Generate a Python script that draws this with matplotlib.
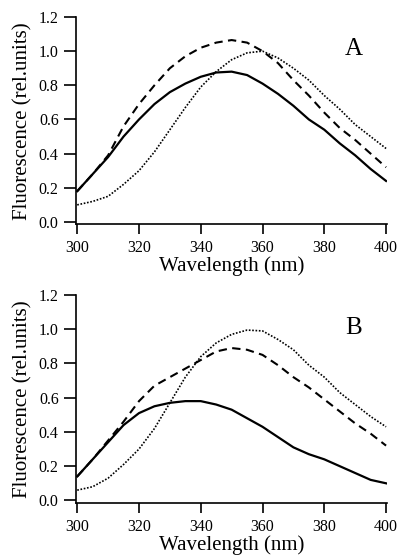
import numpy as np
import matplotlib
matplotlib.use("Agg")
import matplotlib.pyplot as plt

plt.rcParams['font.family'] = ['Liberation Serif', 'DejaVu Serif']

wavelength = [300, 305, 310, 315, 320, 325, 330, 335, 340, 345, 350,
              355, 360, 365, 370, 375, 380, 385, 390, 395, 400]

# panel A
a_solid = [0.18, 0.28, 0.38, 0.50, 0.60, 0.69, 0.76, 0.81, 0.85, 0.875, 0.88,
           0.86, 0.81, 0.75, 0.68, 0.60, 0.54, 0.46, 0.39, 0.31, 0.24]
a_dashed = [0.18, 0.28, 0.39, 0.56, 0.69, 0.80, 0.90, 0.97, 1.02, 1.05, 1.065,
            1.05, 1.00, 0.93, 0.83, 0.74, 0.64, 0.55, 0.48, 0.40, 0.32]
a_dotted = [0.10, 0.12, 0.15, 0.22, 0.30, 0.41, 0.54, 0.67, 0.79, 0.88, 0.95,
            0.99, 1.00, 0.96, 0.90, 0.83, 0.74, 0.66, 0.57, 0.50, 0.43]

# panel B
b_solid = [0.14, 0.24, 0.34, 0.44, 0.51, 0.55, 0.57, 0.58, 0.58, 0.56, 0.53,
           0.48, 0.43, 0.37, 0.31, 0.27, 0.24, 0.20, 0.16, 0.12, 0.10]
b_dashed = [0.14, 0.24, 0.35, 0.46, 0.58, 0.67, 0.72, 0.77, 0.82, 0.87, 0.89,
            0.88, 0.85, 0.79, 0.72, 0.66, 0.59, 0.52, 0.45, 0.39, 0.32]
b_dotted = [0.06, 0.08, 0.13, 0.21, 0.30, 0.42, 0.57, 0.72, 0.84, 0.92, 0.97,
            0.995, 0.99, 0.94, 0.88, 0.79, 0.72, 0.63, 0.56, 0.49, 0.43]

panels = [("A", a_solid, a_dashed, a_dotted, [0.1895, 0.5984, 0.7756, 0.3712]),
          ("B", b_solid, b_dashed, b_dotted, [0.1895, 0.1002, 0.7756, 0.3721])]

fig = plt.figure(figsize=(4.01, 5.59), dpi=100)

for letter, solid, dashed, dotted, rect in panels:
    ax = fig.add_axes(rect)
    ax.plot(wavelength, solid, color='black', lw=1.6, ls='-')
    ax.plot(wavelength, dashed, color='black', lw=1.5, dashes=(4, 2.6))
    ax.plot(wavelength, dotted, color='black', lw=1.2, dashes=(1, 1.0))

    ax.set_xlim(299.6, 400.3)
    ax.set_ylim(-0.015, 1.2)
    ax.set_xticks([300, 320, 340, 360, 380, 400])
    ax.set_yticks([0.0, 0.2, 0.4, 0.6, 0.8, 1.0, 1.2])
    ax.set_yticklabels(["%.1f" % v for v in ax.get_yticks()])

    for s in ['top', 'right']:
        ax.spines[s].set_visible(False)
    for s in ['left', 'bottom']:
        ax.spines[s].set_linewidth(1.2)

    ax.tick_params(axis='y', direction='out', length=8.5, width=1.2,
                   pad=4, labelsize=11.5)
    ax.tick_params(axis='x', direction='out', length=7.5, width=1.2,
                   pad=4, labelsize=11.5)

    ax.set_xlabel("Wavelength (nm)", fontsize=15, labelpad=0)
    ax.set_ylabel("Fluorescence (rel.units)", fontsize=15)
    ax.yaxis.set_label_coords(-0.14, 0.5)

    ax.text(389.5, 1.01, letter, fontsize=18, ha='center', va='center')

fig.savefig("out.png", dpi=100)
